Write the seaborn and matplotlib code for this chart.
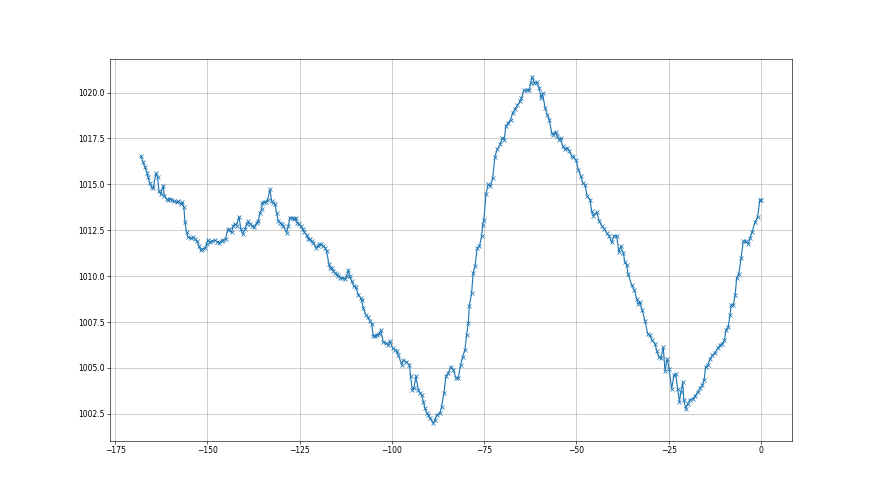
import matplotlib
matplotlib.use("Agg")
import matplotlib.pyplot as plt
import seaborn as sns
import pandas as pd

# Time offset (hours before now) of each reading
hours = [
    -168.0, -167.39, -166.94, -166.31, -166.04, -165.58, -165.13, -164.68, -163.96, -163.51,
    -163.14, -162.69, -161.97, -161.7, -161.07, -160.61, -160.16, -159.71, -158.99, -158.36,
    -157.91, -157.18, -156.82, -156.37, -156.1, -155.65, -155.2, -154.56, -153.84, -153.39,
    -152.94, -152.3, -151.85, -151.4, -150.68, -150.23, -149.95, -149.32, -148.69, -147.97,
    -147.34, -146.79, -146.16, -145.71, -145.08, -144.54, -144.08, -143.45, -143.0, -142.55,
    -142.1, -141.46, -140.92, -140.47, -139.84, -139.39, -138.94, -138.48, -137.85, -137.31,
    -136.67, -136.22, -135.77, -135.32, -135.14, -134.6, -134.15, -133.69, -133.06, -132.61,
    -132.16, -131.71, -131.26, -130.81, -130.35, -129.9, -129.45, -128.55, -128.09, -127.64,
    -127.01, -126.47, -126.1, -125.65, -125.2, -124.66, -124.21, -123.76, -123.13, -122.67,
    -122.22, -121.77, -121.32, -120.6, -120.15, -119.7, -119.24, -118.61, -118.16, -117.71,
    -117.07, -116.8, -116.35, -115.9, -115.45, -115.0, -114.54, -114.09, -113.46, -112.74,
    -112.29, -111.83, -111.38, -110.93, -110.3, -109.85, -109.12, -108.49, -108.22, -107.77,
    -107.14, -106.59, -105.96, -105.51, -105.06, -104.61, -104.16, -103.52, -102.98, -102.35,
    -101.63, -100.99, -100.54, -99.82, -99.19, -98.73, -98.28, -97.38, -96.93, -96.21,
    -95.3, -94.94, -94.49, -94.04, -93.5, -92.86, -92.41, -91.96, -91.51, -91.06,
    -90.6, -90.15, -89.7, -88.8, -88.35, -87.9, -86.99, -86.54, -85.91, -85.37,
    -84.74, -84.1, -83.38, -82.66, -82.02, -81.39, -80.85, -80.22, -79.76, -79.31,
    -79.04, -78.41,
    -78.0, -77.5, -76.9, -76.3, -75.7, -75.4, -75.1, -74.5, -73.9, -73.3,
    -72.7, -72.1, -71.5, -70.7, -70.1, -69.6, -69.1, -68.5, -67.8, -67.3,
    -66.7, -66.0, -65.3, -64.9, -64.2, -63.5, -62.8, -62.4, -62.0, -61.4,
    -60.8, -60.1, -59.6, -59.2, -58.5, -57.9, -57.4, -56.7, -56.3, -55.6,
    -55.2, -54.7, -54.3, -53.7, -53.1, -52.5, -51.9, -51.3, -50.9, -50.1,
    -49.5, -48.9, -48.3, -47.7, -47.1, -46.3, -45.9, -45.4, -44.5, -43.8,
    -43.2, -42.5, -41.8, -41.1, -40.5, -39.8, -39.1, -38.5, -38.0, -37.3,
    -36.9, -36.4, -36.0,
    -35.0, -34.3, -33.7, -33.2, -32.8, -32.2, -31.4, -30.7, -30.1, -29.5,
    -28.7, -28.3, -27.6, -27.1, -26.5, -26.0, -25.4, -24.9, -24.2, -23.6,
    -23.1, -22.6, -22.1, -21.7, -21.2, -20.9, -20.4, -19.9, -19.2, -18.5,
    -17.9, -17.2, -16.5, -15.9, -15.4, -15.0, -14.4, -13.8, -13.2, -12.5,
    -11.7, -11.1, -10.5, -9.9, -9.5, -8.9, -8.4, -8.1, -7.5, -7.0,
    -6.6, -6.0, -5.4, -4.8, -4.1, -3.4, -3.0, -2.4, -1.6, -0.9,
    -0.3, 0.0,
]

# Pressure readings (hPa)
pressure = [
    1016.53, 1016.2, 1015.96, 1015.6, 1015.38, 1015.05, 1014.84, 1014.78, 1015.6, 1015.38,
    1014.65, 1014.47, 1014.93, 1014.38, 1014.2, 1014.15, 1014.2, 1014.15, 1014.07, 1014.02,
    1014.07, 1013.93, 1014.02, 1013.75, 1012.93, 1012.38, 1012.11, 1012.07, 1012.11, 1012.02,
    1011.93, 1011.65, 1011.42, 1011.47, 1011.53, 1011.75, 1011.96, 1011.84, 1011.93, 1011.96,
    1011.87, 1011.82, 1011.93, 1011.98, 1012.02, 1012.51, 1012.56, 1012.38, 1012.75, 1012.84,
    1012.75, 1013.24, 1012.56, 1012.29, 1012.56, 1012.84, 1012.98, 1012.84, 1012.75, 1012.65,
    1012.91, 1013.0, 1013.45, 1013.64, 1014.0, 1014.04, 1014.04, 1014.15, 1014.73, 1014.09,
    1014.0, 1013.91, 1013.45, 1013.0, 1012.91, 1012.82, 1012.73, 1012.36, 1012.73, 1013.18,
    1013.18, 1013.13, 1013.18, 1012.91, 1012.82, 1012.73, 1012.55, 1012.4, 1012.22, 1012.04,
    1012.0, 1011.91, 1011.82, 1011.55, 1011.64, 1011.73, 1011.73, 1011.64, 1011.55, 1011.36,
    1010.64, 1010.45, 1010.45, 1010.27, 1010.18, 1010.09, 1010.0, 1009.91, 1009.91, 1009.85,
    1010.0, 1010.33, 1010.0, 1009.73, 1009.45, 1009.42, 1009.0, 1008.82, 1008.69, 1008.27,
    1007.91, 1007.78, 1007.55, 1007.42, 1006.73, 1006.73, 1006.82, 1006.87, 1007.05, 1006.4,
    1006.35, 1006.26, 1006.45, 1006.08, 1005.99, 1005.9, 1005.72, 1005.17, 1005.41, 1005.35,
    1005.17, 1004.54, 1003.81, 1003.9, 1004.54, 1003.81, 1003.63, 1003.54, 1003.17, 1002.81,
    1002.57, 1002.45, 1002.26, 1001.99, 1002.17, 1002.45, 1002.54, 1002.9, 1003.63, 1004.54,
    1004.72, 1005.05, 1004.9, 1004.45, 1004.45, 1005.17, 1005.59, 1005.99, 1006.81, 1007.45,
    1008.39, 1009.08,
    1010.17, 1010.53, 1011.53, 1011.62, 1012.17, 1012.8, 1013.08, 1014.5, 1015.0, 1014.9,
    1015.35, 1016.5, 1016.9, 1017.17, 1017.53, 1017.44, 1018.17, 1018.35, 1018.53, 1018.9,
    1019.08, 1019.3, 1019.53, 1019.71, 1020.13, 1020.13, 1020.13, 1020.53, 1020.86, 1020.53,
    1020.56, 1020.26, 1019.71, 1019.95, 1019.17, 1018.8, 1018.53, 1017.8, 1017.71, 1017.84,
    1017.62, 1017.44, 1017.53, 1017.07, 1016.9, 1016.99, 1016.8, 1016.53, 1016.5, 1016.31,
    1015.8, 1015.48, 1015.08, 1014.99, 1014.35, 1014.17, 1013.53, 1013.3, 1013.48, 1012.98,
    1012.75, 1012.57, 1012.35, 1012.17, 1011.84, 1012.2, 1012.2, 1011.3, 1011.62, 1011.26,
    1010.75, 1010.62, 1010.1,
    1009.5, 1009.23, 1008.77, 1008.5, 1008.59, 1008.14, 1007.54, 1006.86, 1006.77, 1006.5,
    1006.32, 1005.95, 1005.59, 1005.54, 1006.14, 1004.86, 1005.5, 1004.95, 1003.86, 1004.59,
    1004.68, 1003.86, 1003.17, 1003.68, 1004.23, 1003.23, 1002.77, 1003.05, 1003.28, 1003.32,
    1003.46, 1003.68, 1003.9, 1004.05, 1004.37, 1005.05, 1005.17, 1005.5, 1005.68, 1005.83,
    1006.08, 1006.23, 1006.32, 1006.5, 1007.05, 1007.23, 1007.86, 1008.41, 1008.45, 1008.95,
    1009.9, 1010.14, 1010.99, 1011.9, 1011.9, 1011.77, 1012.05, 1012.41, 1012.95, 1013.23,
    1014.17, 1014.12,
]

assert len(hours) == len(pressure), (len(hours), len(pressure))

df = pd.DataFrame({"hours": hours, "pressure": pressure})

fig, ax = plt.subplots(figsize=(16, 9), dpi=55)
sns.lineplot(
    data=df, x="hours", y="pressure", ax=ax,
    estimator=None, sort=False,
    color="#1f77b4", linewidth=1.5,
    marker="x", markersize=6,
    markeredgecolor="#1f77b4", markeredgewidth=1.0,
)
ax.grid(True)
ax.set_xlabel("")
ax.set_ylabel("")
ax.ticklabel_format(axis="y", useOffset=False)

fig.savefig("out.png", dpi=55)
